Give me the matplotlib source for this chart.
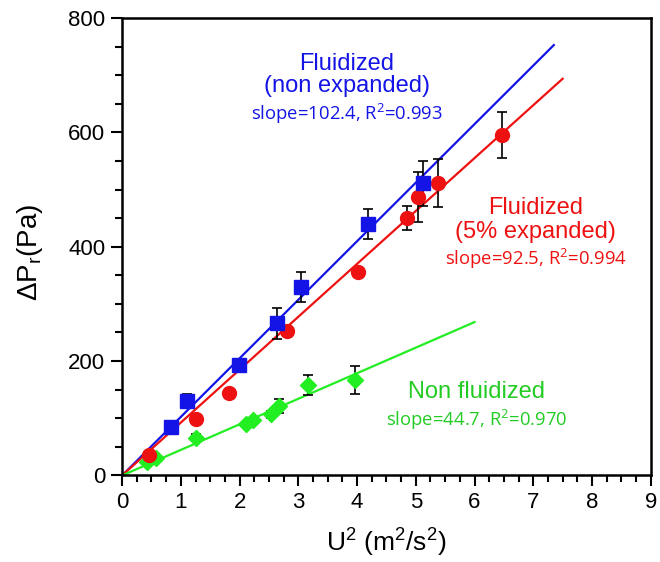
import numpy as np
import matplotlib.pyplot as plt
from matplotlib.ticker import MultipleLocator

plt.rcParams['font.family'] = ['Liberation Sans', 'DejaVu Sans']
plt.rcParams['mathtext.default'] = 'regular'

# fluidized, non expanded (blue squares)
blue_x = [0.83, 1.10, 1.99, 2.64, 3.04, 4.19, 5.12]
blue_y = [84, 130, 193, 266, 329, 440, 511]
blue_err = [5, 12, 10, 27, 26, 26, 39]

# fluidized, 5% expanded (red circles)
red_x = [0.45, 1.25, 1.82, 2.80, 4.02, 4.85, 5.04, 5.38, 6.47]
red_y = [36, 98, 144, 253, 355, 451, 487, 511, 596]
red_err = [4, 5, 5, 8, 8, 21, 44, 42, 40]

# non fluidized (green diamonds)
green_x = [0.42, 0.57, 1.25, 2.11, 2.22, 2.54, 2.67, 3.17, 3.97]
green_y = [24, 30, 66, 90, 97, 107, 121, 158, 167]
green_err = [3, 3, 6, 4, 4, 6, 12, 18, 24]

slopes = {'blue': 102.4, 'red': 92.5, 'green': 44.7}
fit_end = {'blue': 7.35, 'red': 7.5, 'green': 6.0}

c_blue = '#1414e6'
c_red = '#ee1111'
c_green = '#22ee22'
c_green_txt = '#22cc22'

fig = plt.figure(figsize=(6.6, 5.62), dpi=100)
ax = fig.add_axes([0.185, 0.154, 0.801, 0.814])

for key, col in [('blue', c_blue), ('red', c_red), ('green', c_green)]:
    xx = np.array([0, fit_end[key]])
    ax.plot(xx, slopes[key] * xx, color=col, lw=1.6, zorder=2)

ekw = dict(ecolor='black', elinewidth=1.2, capsize=3.5, capthick=1.2, ls='none', zorder=3)
ax.errorbar(green_x, green_y, yerr=green_err, fmt='D', color=c_green, ms=8.5, mec=c_green, **ekw)
ax.errorbar(red_x, red_y, yerr=red_err, fmt='o', color=c_red, ms=10, mec=c_red, **ekw)
ax.errorbar(blue_x, blue_y, yerr=blue_err, fmt='s', color=c_blue, ms=9.5, mec=c_blue, **ekw)

ax.set_xlim(0, 9)
ax.set_ylim(0, 800)
ax.xaxis.set_major_locator(MultipleLocator(1))
ax.xaxis.set_minor_locator(MultipleLocator(0.25))
ax.yaxis.set_major_locator(MultipleLocator(200))
ax.yaxis.set_minor_locator(MultipleLocator(50))
ax.tick_params(which='both', direction='out', width=1.5, labelsize=16, top=False, right=False)
ax.tick_params(which='major', length=8, pad=4)
ax.tick_params(which='minor', length=5)
for s in ax.spines.values():
    s.set_linewidth(1.8)

ax.set_xlabel('U$^2$ (m$^2$/s$^2$)', fontsize=19)
ax.set_ylabel('ΔP$_r$(Pa)', fontsize=20)
ax.xaxis.set_label_coords(0.499, -0.148)
ax.xaxis.label.set_va('center')
ax.yaxis.set_label_coords(-0.174, 0.488)
ax.yaxis.label.set_va('center')

ann = ['Open Sans', 'DejaVu Sans']
# blue block
ax.text(3.83, 720, 'Fluidized', color=c_blue, fontsize=17, ha='center', va='center')
ax.text(3.83, 681, '(non expanded)', color=c_blue, fontsize=17, ha='center', va='center')
ax.text(3.83, 632, 'slope=102.4, R$^2$=0.993', color=c_blue, fontsize=13.3, ha='center',
        va='center', family=ann)
# red block
ax.text(7.04, 468, 'Fluidized', color=c_red, fontsize=17, ha='center', va='center')
ax.text(7.04, 426, '(5% expanded)', color=c_red, fontsize=17, ha='center', va='center')
ax.text(7.04, 378, 'slope=92.5, R$^2$=0.994', color=c_red, fontsize=13.3, ha='center',
        va='center', family=ann)
# green block
ax.text(6.03, 146, 'Non fluidized', color=c_green_txt, fontsize=17, ha='center', va='center')
ax.text(6.03, 97, 'slope=44.7, R$^2$=0.970', color=c_green_txt, fontsize=13.3, ha='center',
        va='center', family=ann)

fig.savefig('out.png', dpi=100)
